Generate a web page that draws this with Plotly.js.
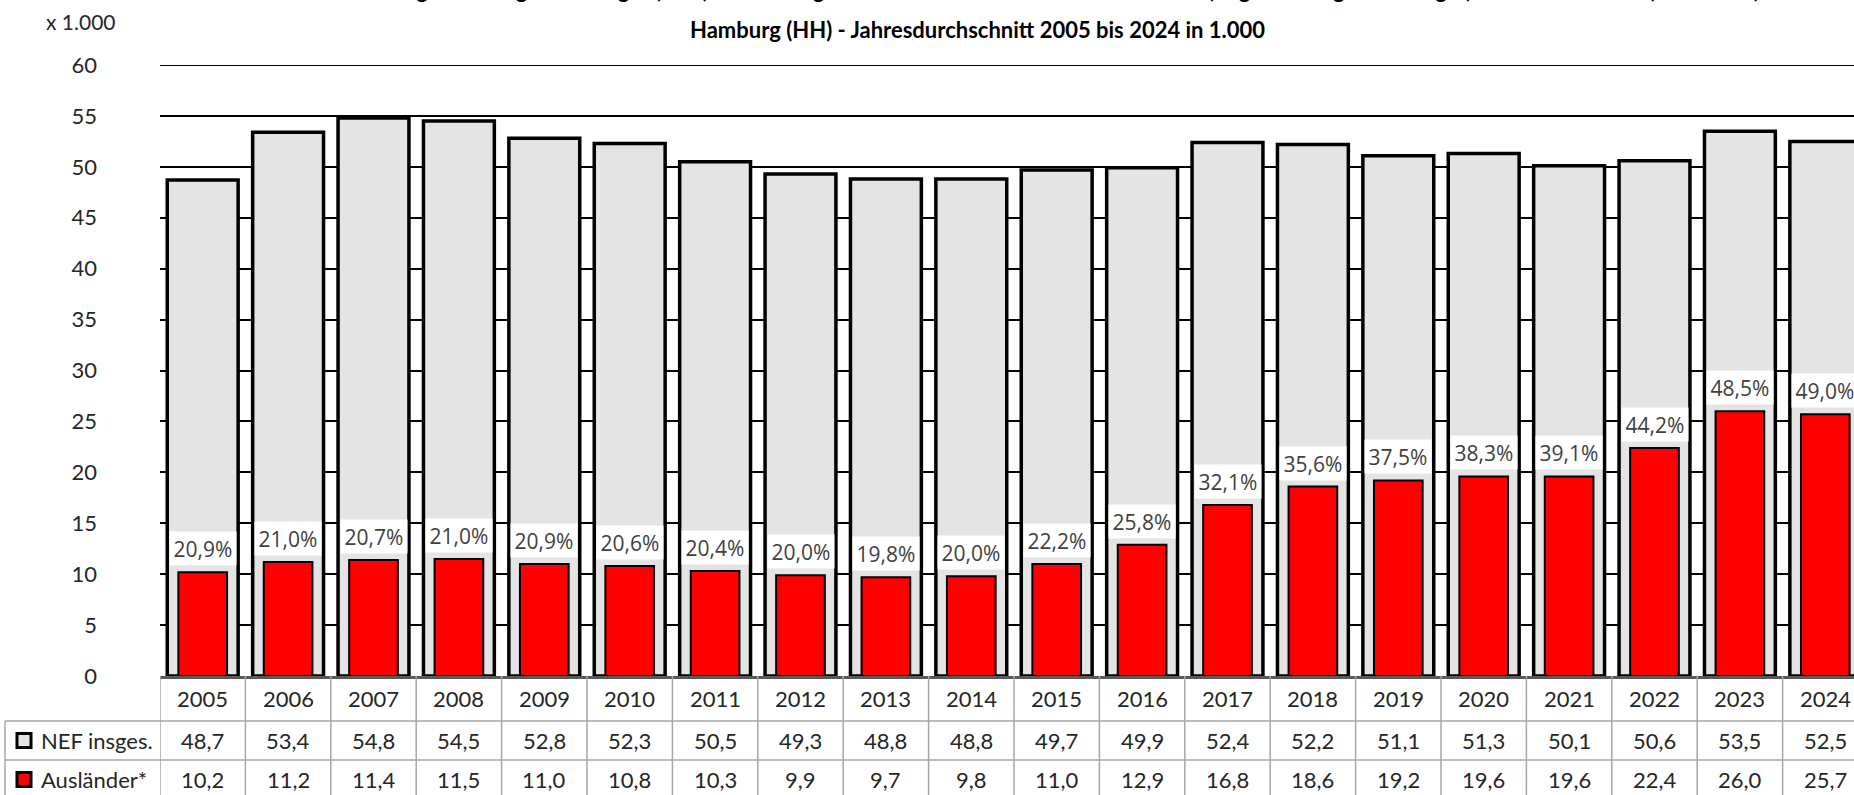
<!DOCTYPE html>
<html>
<head>
<meta charset="utf-8">
<script src="https://cdn.plot.ly/plotly-3.0.1.min.js"></script>
<style>
html,body{margin:0;padding:0;overflow:hidden;background:#fff;}
#chart{width:1870px;height:795px;}
</style>
</head>
<body>
<div id="chart"></div>
<script>
const years = ["2005","2006","2007","2008","2009","2010","2011","2012","2013","2014","2015","2016","2017","2018","2019","2020","2021","2022","2023","2024"];
const nefTotal = [48.7,53.4,54.8,54.5,52.8,52.3,50.5,49.3,48.8,48.8,49.7,49.9,52.4,52.2,51.1,51.3,50.1,50.6,53.5,52.5];
const auslaender = [10.2,11.2,11.4,11.5,11.0,10.8,10.3,9.9,9.7,9.8,11.0,12.9,16.8,18.6,19.2,19.6,19.6,22.4,26.0,25.7];
const anteilPct = [20.9,21.0,20.7,21.0,20.9,20.6,20.4,20.0,19.8,20.0,22.2,25.8,32.1,35.6,37.5,38.3,39.1,44.2,48.5,49.0];
const yTicks = [0,5,10,15,20,25,30,35,40,45,50,55,60];
const seriesNames = ["NEF insges.","Ausländer*"];
const title1 = "Nicht erwerbsfähige Leistungsberechtigte (NEF) in Bedarfsgemeinschaften und darunter Ausländer (Regelleistungsberechtigte) - Ausländeranteil (in Prozent)";
const title2 = "Hamburg (HH) - Jahresdurchschnitt 2005 bis 2024 in 1.000";
const unitLabel = "x 1.000";

const W = 1870, H = 795, ML = 160, MR = 2, MT = 65, MB = 119;
const PW = W - ML - MR, PH = H - MT - MB;
const px = p => (p - ML) / PW;
const py = p => (H - MB - p) / PH;
const fmt = v => v.toFixed(1).replace('.', ',');
const idx = years.map((_, i) => i);

const txtFont = {family: "Lato, 'Open Sans', sans-serif", size: 22, color: "#262626"};
const gridGray = "#a6a6a6";

const traces = [
  {type: "bar", x: idx, y: nefTotal, name: seriesNames[0], width: 0.83,
   marker: {color: "#e4e4e4", line: {color: "#000", width: 3.5}}, hoverinfo: "skip"},
  {type: "bar", x: idx, y: auslaender, name: seriesNames[1], width: 0.57,
   marker: {color: "#ff0000", line: {color: "#000", width: 2}}, hoverinfo: "skip"}
];

const annotations = [];
const shapes = [];

// top gridline (at range edge)
shapes.push({type: "line", layer: "below", xref: "paper", yref: "y", x0: 0, x1: 1, y0: yTicks[yTicks.length - 1], y1: yTicks[yTicks.length - 1],
  line: {color: "#000", width: 2}});

// percentage labels
idx.forEach(i => {
  annotations.push({xref: "x", yref: "y", x: i, y: auslaender[i], xanchor: "center", yanchor: "bottom", yshift: 6,
    text: fmt(anteilPct[i]) + "%", showarrow: false, bgcolor: "#ffffff", width: 64, height: 31, borderpad: 1,
    font: {family: "'Open Sans', sans-serif", size: 21, color: "#404040"}});
});

// titles
annotations.push({xref: "paper", yref: "paper", x: px(1000), y: py(5), yanchor: "bottom", xanchor: "center",
  text: "<b>" + title1 + "</b>", showarrow: false, font: {family: "Lato, sans-serif", size: 22, color: "#000"}});
annotations.push({xref: "paper", yref: "paper", x: px(977), y: py(30), yanchor: "middle", xanchor: "center",
  text: "<b>" + title2 + "</b>", showarrow: false, font: {family: "Lato, sans-serif", size: 22, color: "#000"}});
annotations.push({xref: "paper", yref: "paper", x: px(44), y: py(21), yanchor: "middle", xanchor: "left",
  text: unitLabel, showarrow: false, font: {family: "Lato, sans-serif", size: 21, color: "#262626"}});

// table rows
const rowYear = 698.5, rowNef = 740.5, rowAus = 779.5;
idx.forEach(i => {
  annotations.push({xref: "x", yref: "paper", x: i, y: py(rowYear), xanchor: "center", yanchor: "middle", text: years[i], showarrow: false, font: txtFont});
  annotations.push({xref: "x", yref: "paper", x: i, y: py(rowNef), xanchor: "center", yanchor: "middle", text: fmt(nefTotal[i]), showarrow: false, font: txtFont});
  annotations.push({xref: "x", yref: "paper", x: i, y: py(rowAus), xanchor: "center", yanchor: "middle", text: fmt(auslaender[i]), showarrow: false, font: txtFont});
});
annotations.push({xref: "paper", yref: "paper", x: px(39), y: py(rowNef), xanchor: "left", yanchor: "middle", text: seriesNames[0], showarrow: false, font: txtFont});
annotations.push({xref: "paper", yref: "paper", x: px(39), y: py(rowAus), xanchor: "left", yanchor: "middle", text: seriesNames[1], showarrow: false, font: txtFont});

// legend squares
shapes.push({type: "rect", xref: "paper", yref: "paper", x0: px(17), x1: px(31), y0: py(rowNef + 7), y1: py(rowNef - 7),
  fillcolor: "#e4e4e4", line: {color: "#000", width: 3}});
shapes.push({type: "rect", xref: "paper", yref: "paper", x0: px(17), x1: px(31), y0: py(rowAus + 7), y1: py(rowAus - 7),
  fillcolor: "#ff0000", line: {color: "#000", width: 3}});

// table grid
[721, 760, 799].forEach(p => {
  shapes.push({type: "line", xref: "paper", yref: "paper", x0: px(5), x1: 1, y0: py(p), y1: py(p), line: {color: gridGray, width: 1.5}});
});
shapes.push({type: "line", xref: "paper", yref: "paper", x0: px(5), x1: px(5), y0: py(721), y1: py(799), line: {color: gridGray, width: 1.5}});
for (let k = 0; k <= years.length; k++) {
  shapes.push({type: "line", xref: "x", yref: "paper", x0: k - 0.5, x1: k - 0.5, y0: 0, y1: py(799), line: {color: gridGray, width: 1.5}});
}

const layout = {
  width: W, height: H,
  margin: {l: ML, r: MR, t: MT, b: MB},
  paper_bgcolor: "#fff", plot_bgcolor: "#fff",
  barmode: "overlay", showlegend: false,
  xaxis: {range: [-0.5, years.length - 0.5], showticklabels: false, showgrid: false,
    showline: true, linecolor: "#595959", linewidth: 3, zeroline: false, ticks: ""},
  yaxis: {range: [0, 60], tickvals: yTicks, showgrid: true, gridcolor: "#000", gridwidth: 2,
    zeroline: false, showline: false, ticks: "", ticklabelstandoff: 62,
    tickfont: {family: "Lato, sans-serif", size: 22, color: "#262626"}},
  annotations: annotations,
  shapes: shapes
};

Plotly.newPlot("chart", traces, layout, {displayModeBar: false, staticPlot: true});
</script>
</body>
</html>
